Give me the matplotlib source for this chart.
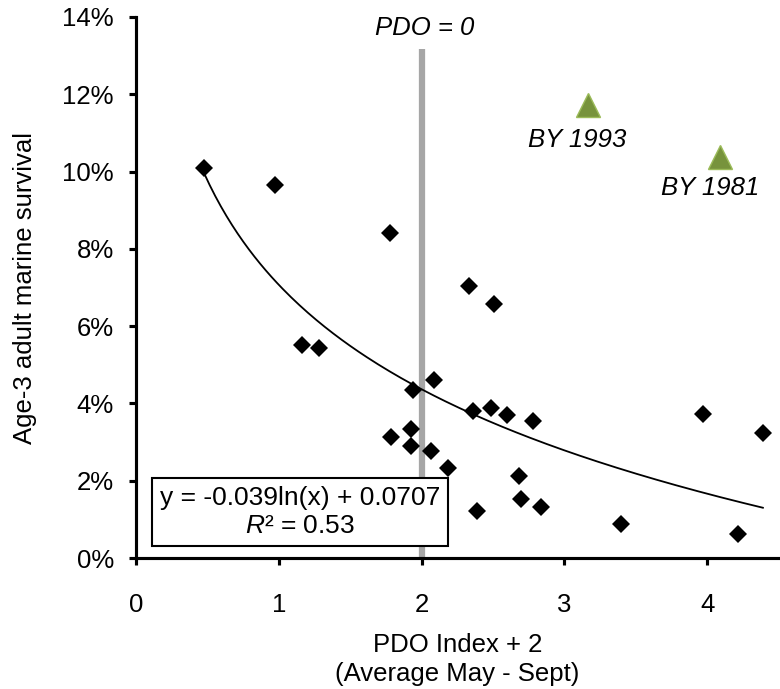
"""Age-3 adult marine survival vs summer PDO index, with log trend line."""
import numpy as np
import matplotlib
matplotlib.use("Agg")
import matplotlib.pyplot as plt
from matplotlib.ticker import PercentFormatter

plt.rcParams["font.family"] = ["Liberation Sans", "DejaVu Sans"]
plt.rcParams["mathtext.fontset"] = "custom"
plt.rcParams["mathtext.rm"] = "Liberation Sans"
plt.rcParams["mathtext.it"] = "Liberation Sans:italic"

# PDO index + 2 (average May - Sept) and age-3 survival (fraction)
pdo_x = [0.476, 0.973, 1.779, 1.162, 1.282, 1.940, 2.087, 1.786, 1.926, 1.926,
         2.066, 2.185, 2.388, 2.360, 2.486, 2.332, 2.507, 2.598, 2.780, 2.680,
         2.696, 2.836, 3.396, 3.971, 4.390, 4.216]
survival = [0.1008, 0.0965, 0.0841, 0.0551, 0.0543, 0.0435, 0.0461, 0.0313, 0.0334, 0.0290,
            0.0277, 0.0233, 0.0122, 0.0380, 0.0388, 0.0704, 0.0657, 0.0370, 0.0354, 0.0212,
            0.0153, 0.0132, 0.0088, 0.0373, 0.0323, 0.0062]

# outlier brood years (not in the fit)
outlier_x = [3.165, 4.090]
outlier_y = [0.1172, 0.1037]
outlier_labels = ["BY 1993", "BY 1981"]

# log trend line reported on the chart
FIT_A, FIT_B, FIT_R2 = -0.039, 0.0707, 0.53
PDO_ZERO = 2.0
FS = 18.5

fig = plt.figure(figsize=(7.8, 6.89), dpi=100)
ax = fig.add_axes([136 / 780, 1 - 558 / 689, 642.6 / 780, 541 / 689])

# PDO = 0 reference line
ax.plot([PDO_ZERO, PDO_ZERO], [0, 0.1317], color="#A6A6A6", lw=4.5, zorder=1,
        solid_capstyle="butt", clip_on=False)
ax.text(PDO_ZERO + 0.02, 0.1353, "PDO = 0", ha="center", va="baseline",
        fontsize=FS, style="italic")

# trend line over the range of the fitted data
xs = np.linspace(min(pdo_x), max(pdo_x), 200)
ax.plot(xs, FIT_A * np.log(xs) + FIT_B, color="black", lw=1.3, zorder=2)

ax.plot(pdo_x, survival, "D", color="black", ms=9.5, mew=0, zorder=3)
ax.plot(outlier_x, outlier_y, "^", color="#77933C", mec="#9BBB59", ms=17, mew=1, zorder=3)
offsets = [(-8, -30), (-7, -27)]
for x, y, lab, off in zip(outlier_x, outlier_y, outlier_labels, offsets):
    ax.annotate(lab, (x, y), xytext=off, textcoords="offset points", ha="center",
                va="baseline", fontsize=FS, style="italic")

ax.text(1.148, 0.0119, f"y = {FIT_A}ln(x) + {FIT_B}\n$\\mathit{{R}}$² = {FIT_R2}",
        ha="center", va="center", fontsize=19, zorder=4, linespacing=1.2,
        bbox=dict(boxstyle="square,pad=0.3", fc="white", ec="black", lw=1.5))

ax.set_xlim(0, 4.5)
ax.set_ylim(0, 0.14)
ax.set_xticks([0, 1, 2, 3, 4])
ax.set_yticks(np.arange(0, 0.141, 0.02))
ax.yaxis.set_major_formatter(PercentFormatter(1.0, decimals=0))
for side in ("top", "right"):
    ax.spines[side].set_visible(False)
for side in ("left", "bottom"):
    ax.spines[side].set_linewidth(2.25)
ax.tick_params(direction="out", length=5, width=2.25, labelsize=FS)
ax.tick_params(axis="y", pad=11)
ax.tick_params(axis="x", pad=20)

ax.set_xlabel("PDO Index + 2\n(Average May - Sept)", fontsize=FS, labelpad=12, linespacing=1.25)
ax.set_ylabel("Age-3 adult marine survival", fontsize=FS, labelpad=18)

fig.savefig("out.png", dpi=100)
